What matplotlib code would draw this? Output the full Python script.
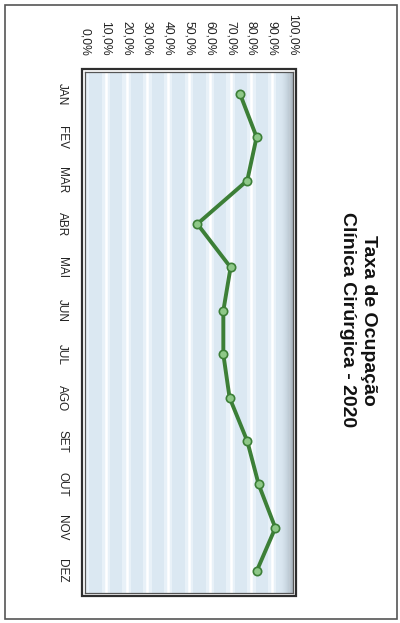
import numpy as np
import matplotlib
matplotlib.use('Agg')
import matplotlib.pyplot as plt
from matplotlib.patches import Rectangle

# dados da taxa de ocupação mensal (%)
meses = ['JAN', 'FEV', 'MAR', 'ABR', 'MAI', 'JUN',
         'JUL', 'AGO', 'SET', 'OUT', 'NOV', 'DEZ']
taxa = [74.5, 82.5, 78.0, 54.0, 70.0, 66.5,
        66.5, 69.5, 78.0, 83.5, 91.5, 82.5]
ticks = list(range(0, 101, 10))
tick_labels = [f'{t:.1f}%'.replace('.', ',') for t in ticks]
titulo = 'Taxa de Ocupação\nClínica Cirúrgica - 2020'

plt.rcParams['font.family'] = ['Liberation Sans', 'DejaVu Sans']

W, H = 400, 623
fig = plt.figure(figsize=(W / 100, H / 100), dpi=100)
fig.patch.set_facecolor('white')

# borda da página
fig.patches.append(Rectangle((5 / W, 1 - 619 / H), 392 / W, 614 / H,
                             transform=fig.transFigure, fill=False,
                             ec='#555555', lw=1.2))

# gráfico girado 90 graus: valores na horizontal, meses na vertical
ax = fig.add_axes([85 / W, 1 - 593 / H, (293 - 85) / W, (593 - 72) / H])
ax.set_facecolor('#e8f1f8')

# faixas do fundo
for t in ticks[:-1]:
    ax.axvspan(t + 2, t + 8, color='#d6e5f0', alpha=0.7, lw=0, zorder=0)

# sombra na borda direita
grad = np.zeros((1, 40, 4))
cor = matplotlib.colors.to_rgb('#8d9ba6')
grad[..., :3] = cor
grad[..., 3] = np.linspace(0, 0.85, 40) ** 2
ax.imshow(grad, extent=[93, 100, 11.5, -0.5], aspect='auto', zorder=1)

for t in ticks[1:-1]:
    ax.axvline(t, color='white', lw=1.8, zorder=1.5)

y = np.arange(len(meses))
ax.plot(taxa, y, color='#3c7f37', lw=2.8, marker='o', markersize=6,
        markerfacecolor='#8ec888', markeredgecolor='#3c7f37',
        markeredgewidth=1.2, zorder=3)

ax.set_xlim(0, 100)
ax.set_ylim(11.5, -0.5)

ax.xaxis.tick_top()
ax.set_xticks(ticks)
ax.set_xticklabels(tick_labels, rotation=-90, ha='center', va='bottom',
                   fontsize=8.7, color='#222222')
ax.set_yticks(y)
ax.set_yticklabels(meses, rotation=-90, ha='right', va='center',
                   fontsize=8.5, color='#222222')
ax.tick_params(axis='x', length=0, pad=12)
ax.tick_params(axis='y', length=0, pad=12)

for s in ax.spines.values():
    s.set_color('#555555')
    s.set_linewidth(0.9)

# moldura dupla em volta do gráfico
fig.patches.append(Rectangle((82 / W, 1 - 596 / H), (296 - 82) / W, (596 - 69) / H,
                             transform=fig.transFigure, fill=False,
                             ec='#2e2e2e', lw=1.6))

fig.text(358 / W, 1 - 320 / H, titulo, rotation=-90, ha='center', va='center',
         multialignment='center', fontsize=14, fontweight='bold',
         linespacing=1.35, color='#111111')

fig.savefig('out.png', dpi=100)
